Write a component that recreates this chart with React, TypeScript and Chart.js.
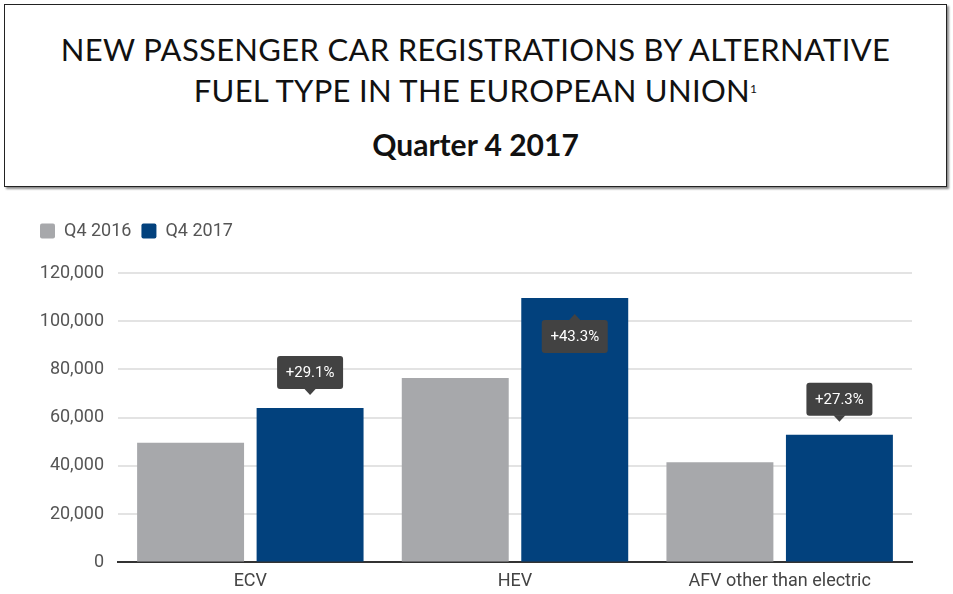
import React, { useEffect, useRef } from "react";
import { Chart, registerables } from "chart.js";

Chart.register(...registerables);

const categories = ["ECV", "HEV", "AFV other than electric"];
const seriesNames = ["Q4 2016", "Q4 2017"];
const valuesQ42016 = [49600, 76500, 41500];
const valuesQ42017 = [64000, 109600, 52900];
const changeLabels = ["+29.1%", "+43.3%", "+27.3%"];
const yTicks = [0, 20000, 40000, 60000, 80000, 100000, 120000];

const FONT = "Roboto, 'Noto Sans', sans-serif";

const legendGapPlugin = {
  id: "legendGap",
  beforeInit(chart: any) {
    const legend = chart.legend;
    if (!legend) return;
    const origFit = legend.fit;
    legend.fit = function () {
      origFit.call(this);
      this.height += 23;
    };
  },
};

function roundRect(ctx: CanvasRenderingContext2D, x: number, y: number, w: number, h: number, r: number) {
  ctx.beginPath();
  ctx.moveTo(x + r, y);
  ctx.lineTo(x + w - r, y);
  ctx.quadraticCurveTo(x + w, y, x + w, y + r);
  ctx.lineTo(x + w, y + h - r);
  ctx.quadraticCurveTo(x + w, y + h, x + w - r, y + h);
  ctx.lineTo(x + r, y + h);
  ctx.quadraticCurveTo(x, y + h, x, y + h - r);
  ctx.lineTo(x, y + r);
  ctx.quadraticCurveTo(x, y, x + r, y);
  ctx.closePath();
}

const changeLabelPlugin = {
  id: "changeLabels",
  afterDatasetsDraw(chart: any) {
    const meta = chart.getDatasetMeta(1);
    const ctx: CanvasRenderingContext2D = chart.ctx;
    const area = chart.chartArea;
    ctx.save();
    ctx.font = `15px ${FONT}`;
    meta.data.forEach((bar: any, i: number) => {
      const text = changeLabels[i];
      if (!text) return;
      const w = 66;
      const h = 33;
      const cx = bar.x;
      const inside = bar.y - area.top < 50;
      const tri = 6;
      let boxTop: number;
      ctx.fillStyle = "#424242";
      if (inside) {
        const tip = bar.y + 16;
        boxTop = tip + tri;
        roundRect(ctx, cx - w / 2, boxTop, w, h, 3);
        ctx.fill();
        ctx.beginPath();
        ctx.moveTo(cx - tri, boxTop + 0.5);
        ctx.lineTo(cx, tip);
        ctx.lineTo(cx + tri, boxTop + 0.5);
        ctx.closePath();
        ctx.fill();
      } else {
        const tip = bar.y - 13;
        const boxBottom = tip - tri;
        boxTop = boxBottom - h;
        roundRect(ctx, cx - w / 2, boxTop, w, h, 3);
        ctx.fill();
        ctx.beginPath();
        ctx.moveTo(cx - tri, boxBottom - 0.5);
        ctx.lineTo(cx, tip);
        ctx.lineTo(cx + tri, boxBottom - 0.5);
        ctx.closePath();
        ctx.fill();
      }
      ctx.fillStyle = "#ffffff";
      ctx.textAlign = "center";
      ctx.textBaseline = "middle";
      ctx.fillText(text, cx, boxTop + h / 2 + 1);
    });
    ctx.restore();
  },
};

export default function App() {
  const canvasRef = useRef<HTMLCanvasElement | null>(null);

  useEffect(() => {
    document.body.style.margin = "0";
    document.body.style.background = "#ffffff";
    if (!canvasRef.current) return;
    const chart = new Chart(canvasRef.current, {
      type: "bar",
      data: {
        labels: categories,
        datasets: [
          {
            label: seriesNames[0],
            data: valuesQ42016,
            backgroundColor: "#a7a8ab",
            categoryPercentage: 0.903,
            barPercentage: 0.895,
          },
          {
            label: seriesNames[1],
            data: valuesQ42017,
            backgroundColor: "#02417d",
            categoryPercentage: 0.903,
            barPercentage: 0.895,
          },
        ],
      },
      options: {
        animation: false,
        responsive: false,
        maintainAspectRatio: false,
        layout: { padding: { top: 12, left: 30, right: 41, bottom: 3 } },
        plugins: {
          legend: {
            display: true,
            position: "top",
            align: "start",
            labels: {
              boxWidth: 15,
              boxHeight: 15,
              padding: 10,
              color: "#555555",
              font: { family: FONT, size: 18 },
              useBorderRadius: true,
              borderRadius: 2,
            },
          },
          tooltip: { enabled: false },
        },
        scales: {
          x: {
            grid: { display: false, drawTicks: false },
            border: { display: true, color: "#333333", width: 2 },
            ticks: {
              color: "#444444",
              font: { family: FONT, size: 18 },
              padding: 8,
            },
          },
          y: {
            min: 0,
            max: 120000,
            afterFit(scale: any) {
              scale.width = 88;
            },
            afterBuildTicks(scale: any) {
              scale.ticks = yTicks.map((v) => ({ value: v }));
            },
            grid: { color: "#e3e3e3", lineWidth: 2, drawTicks: false },
            border: { display: false },
            ticks: {
              color: "#555555",
              font: { family: FONT, size: 18 },
              padding: 14,
              callback: (v: any) => Number(v).toLocaleString("en-US"),
            },
          },
        },
      },
      plugins: [legendGapPlugin, changeLabelPlugin],
    } as any);
    return () => chart.destroy();
  }, []);

  return (
    <div style={{ position: "relative", width: 953, height: 594, background: "#fff", overflow: "hidden" }}>
      <div
        style={{
          position: "absolute",
          left: 4,
          top: 4,
          width: 941,
          height: 181,
          border: "1.5px solid #222",
          boxShadow: "2px 2px 2px #8a8a8a",
          fontFamily: "Lato, 'Open Sans', sans-serif",
          color: "#111",
          textAlign: "center",
        }}
      >
        <div style={{ position: "absolute", left: 0, right: 0, top: 24, fontSize: 31, lineHeight: "41px", letterSpacing: "0.3px", whiteSpace: "nowrap" }}>
          NEW PASSENGER CAR REGISTRATIONS BY ALTERNATIVE
          <br />
          FUEL TYPE IN THE EUROPEAN UNION
          <sup style={{ fontSize: 12, verticalAlign: "top", lineHeight: "38px" }}>1</sup>
        </div>
        <div style={{ position: "absolute", left: 0, right: 0, top: 122, fontSize: 30, fontWeight: 700, lineHeight: "34px" }}>
          Quarter 4 2017
        </div>
      </div>
      <canvas
        ref={canvasRef}
        width={953}
        height={403}
        style={{ position: "absolute", left: 0, top: 200, width: 953, height: 403 }}
      />
    </div>
  );
}
